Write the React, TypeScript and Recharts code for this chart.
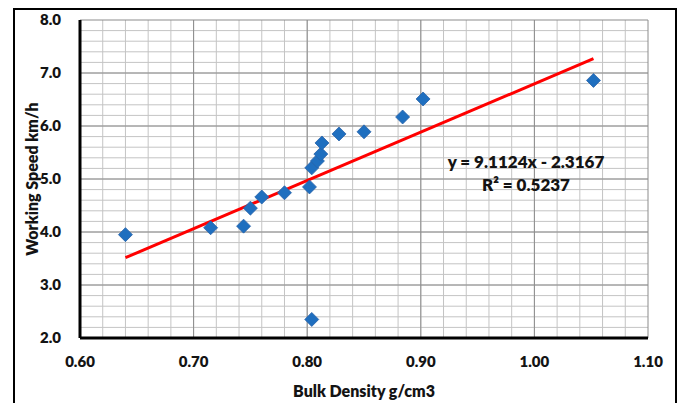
import {
  ReferenceLine,
  Scatter,
  ScatterChart,
  XAxis,
  YAxis,
  Label,
} from "recharts";

// bulk density (g/cm3) vs working speed (km/h)
const density = [
  0.64, 0.715, 0.744, 0.75, 0.76, 0.78, 0.802, 0.804, 0.809, 0.812, 0.813,
  0.828, 0.85, 0.884, 0.902, 1.052, 0.804,
];
const speed = [
  3.95, 4.08, 4.11, 4.45, 4.66, 4.74, 4.85, 5.21, 5.34, 5.47, 5.68, 5.85,
  5.89, 6.17, 6.51, 6.86, 2.35,
];

// linear trend line end points
const trendX = [0.64, 1.052];
const trendY = [3.515, 7.27];

const xTicks = [0.6, 0.7, 0.8, 0.9, 1.0, 1.1];
const yTicks = [2, 3, 4, 5, 6, 7, 8];
const xMinorStep = 0.02;
const yMinorStep = 0.2;

const equation = "y = 9.1124x - 2.3167";
const rSquared = "R² = 0.5237";

const FONT = "Lato, 'Open Sans', sans-serif";
const BLUE = "#1f6fbf";
const INK = "#141414";

const data = density.map((d, i) => ({ x: d, y: speed[i] }));

function minors(from: number, to: number, step: number) {
  const out: number[] = [];
  const n = Math.round((to - from) / step);
  for (let i = 1; i < n; i++) out.push(+(from + i * step).toFixed(3));
  return out;
}

const xMinor = minors(0.6, 1.1, xMinorStep);
const yMinor = minors(2, 8, yMinorStep);

function Diamond(props: any) {
  const { cx, cy } = props;
  const r = 7;
  return (
    <polygon
      points={`${cx},${cy - r} ${cx + r},${cy} ${cx},${cy + r} ${cx - r},${cy}`}
      fill={BLUE}
      stroke="#2a62a8"
      strokeWidth={0.8}
    />
  );
}

export default function App() {
  const tick = { fill: INK, fontSize: 15, fontWeight: 800, fontFamily: FONT };
  const title = { fill: INK, fontSize: 16, fontWeight: 800, fontFamily: FONT };
  return (
    <div
      style={{
        position: "absolute",
        left: 0,
        top: 0,
        width: 680,
        height: 403,
        overflow: "hidden",
        background: "#fff",
      }}
    >
      <div
        style={{
          position: "absolute",
          left: 13,
          top: 8,
          width: 660,
          height: 420,
          border: "2px solid #000",
        }}
      />
      <div style={{ position: "absolute", left: 0, top: 0 }}>
        <ScatterChart
          width={680}
          height={403}
          margin={{ top: 20, right: 32, bottom: 0, left: 0 }}
        >
          <XAxis
            type="number"
            dataKey="x"
            domain={[0.6, 1.1]}
            ticks={xTicks}
            tickFormatter={(v) => v.toFixed(2)}
            tick={tick}
            tickLine={false}
            axisLine={{ stroke: "#000", strokeWidth: 3 }}
            height={65}
            tickMargin={12}
          >
            <Label
              value="Bulk Density g/cm3"
              position="insideBottom"
              offset={6}
              style={{ ...title, textAnchor: "middle" }}
            />
          </XAxis>
          <YAxis
            type="number"
            dataKey="y"
            domain={[2, 8]}
            ticks={yTicks}
            tickFormatter={(v) => v.toFixed(1)}
            tick={tick}
            tickLine={false}
            axisLine={{ stroke: "#000", strokeWidth: 3 }}
            width={80}
            tickMargin={13}
          >
            <Label
              value="Working Speed km/h"
              angle={-90}
              position="insideLeft"
              offset={32}
              style={{ ...title, textAnchor: "middle" }}
            />
          </YAxis>
          {xMinor.map((v) => (
            <ReferenceLine key={`xm${v}`} x={v} stroke="#c4c4c4" strokeWidth={1} />
          ))}
          {yMinor.map((v) => (
            <ReferenceLine key={`ym${v}`} y={v} stroke="#c4c4c4" strokeWidth={1} />
          ))}
          {xTicks.slice(1).map((v) => (
            <ReferenceLine key={`xM${v}`} x={v} stroke="#8c8c8c" strokeWidth={1} />
          ))}
          {yTicks.slice(1).map((v) => (
            <ReferenceLine key={`yM${v}`} y={v} stroke="#8c8c8c" strokeWidth={1} />
          ))}
          <ReferenceLine
            segment={[
              { x: trendX[0], y: trendY[0] },
              { x: trendX[1], y: trendY[1] },
            ]}
            stroke="#ff0000"
            strokeWidth={3}
          />
          <Scatter data={data} shape={Diamond} isAnimationActive={false} />
        </ScatterChart>
      </div>
      <div
        style={{
          position: "absolute",
          left: 436,
          top: 150,
          width: 180,
          textAlign: "center",
          fontFamily: FONT,
          fontWeight: 800,
          fontSize: 17,
          lineHeight: "23px",
          color: INK,
        }}
      >
        <div>{equation}</div>
        <div>{rSquared}</div>
      </div>
    </div>
  );
}
